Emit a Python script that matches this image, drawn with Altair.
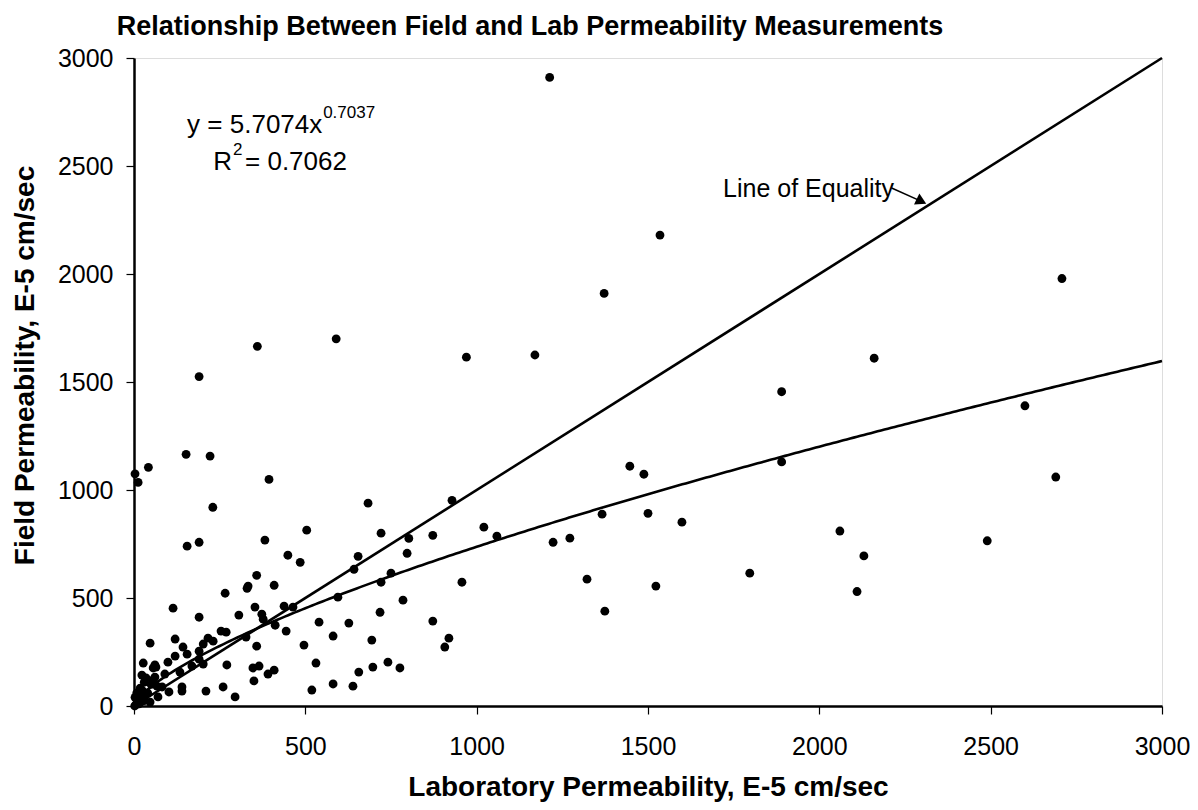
import altair as alt
import pandas as pd

# ---- data ----
lab = [3, 12, 42, 152, 222, 394, 230, 155, 190, 382, 504, 449, 485, 358, 333, 330, 409, 266, 114, 190,
       306, 353, 373, 377, 438, 464, 412, 444, 540, 595, 627, 581, 496, 531, 519, 581, 639, 254, 269, 327,
       358, 216, 231, 202, 120, 47, 143, 155, 190, 190, 202, 271, 120, 99, 61, 64, 90, 134, 169, 347,
       365, 391, 409, 350, 260, 210, 140, 140, 295, 102, 61, 67, 82, 70, 47,
       5, 10, 15, 20, 8, 25, 30, 35, 20, 3, 40, 50, 55, 15, 30, 2,
       27, 56, 23, 18,
       683, 928, 721, 802, 872, 797, 654, 642, 750, 721, 1021, 1059, 957, 785, 718, 872, 694, 919, 907, 656,
       697, 741, 776,
       1447, 1488, 1366, 1500, 1599, 1223, 1272, 1322, 1523, 1374, 1797,
       2708,
       1213, 1535, 1372, 590, 360, 190, 970, 1170, 2160, 1890, 2600, 1890, 2690, 2060, 2130, 2110, 2490]
field = [1075, 1035, 1105, 1165, 1157, 1049, 920, 740, 758, 768, 814, 698, 665, 605, 555, 545, 559, 522, 453, 411,
         421, 458, 425, 402, 462, 458, 374, 347, 388, 504, 384, 324, 282, 199, 74, 102, 92, 347, 342, 319,
         277, 314, 300, 287, 310, 291, 273, 240, 254, 217, 194, 190, 231, 203, 190, 180, 148, 157, 185, 176,
         185, 148, 166, 116, 88, 69, 88, 69, 42, 65, 134, 92, 88, 42, 18,
         5, 15, 30, 50, 60, 70, 110, 130, 20, 40, 60, 100, 120, 10, 25, 0,
         199, 176, 143, 83,
         939, 952, 800, 776, 790, 707, 693, 633, 615, 573, 828, 786, 573, 490, 434, 393, 305, 314, 273, 157,
         180, 203, 176,
         1110, 1073, 888, 892, 851, 758, 777, 587, 555, 439, 615,
         1979,
         2910, 2180, 1910, 1700, 1665, 1525, 1615, 1625, 1610, 1455, 1390, 1130, 1060, 810, 695, 530, 765]

tick_values = [0, 500, 1000, 1500, 2000, 2500, 3000]
equality_x = [0, 3000]
equality_y = [0, 3000]

# trendline shown on the chart: y = 5.7074 x^0.7037
COEF = 5.7074
EXPO = 0.7037

TITLE = "Relationship Between Field and Lab Permeability Measurements"

ann_text = ["y = 5.7074x", "0.7037", "R", "2", "= 0.7062", "Line of Equality"]
ann_x = [155, 552, 231, 289, 324, 1719]
ann_y = [2653, 2722, 2481, 2551, 2481, 2356]
ann_fs = [26, 17, 26, 17, 26, 25]

arrow_from = (2211, 2398)
arrow_to = (2298, 2336)

FONT = "Liberation Sans"

xscale = alt.Scale(domain=[0, 3000], nice=False, zero=False)
yscale = alt.Scale(domain=[0, 3000], nice=False, zero=False)

common_axis = dict(grid=False, values=tick_values, format="d", domainColor="black", domainWidth=2.5,
                   tickColor="black", tickSize=8, tickWidth=1.2, labelColor="black",
                   labelFont=FONT, labelFontSize=25, titleFont=FONT, titleFontSize=28,
                   titleFontWeight="bold", titleColor="black", labelOverlap=False, labelFlush=False)

xaxis = alt.Axis(title="Laboratory Permeability, E-5 cm/sec", labelPadding=20, titlePadding=14, **common_axis)
yaxis = alt.Axis(title="Field Permeability, E-5 cm/sec", labelPadding=13, titlePadding=18, titleY=307,
                 **common_axis)

X = alt.X("x:Q", scale=xscale, axis=xaxis)
Y = alt.Y("y:Q", scale=yscale, axis=yaxis)

pts = pd.DataFrame({"x": lab, "y": field})
eq = pd.DataFrame({"x": equality_x, "y": equality_y})
ann = pd.DataFrame({"x": ann_x, "y": ann_y, "label": ann_text, "fs": ann_fs})
arr = pd.DataFrame({"x": [arrow_from[0]], "y": [arrow_from[1]], "x2": [arrow_to[0]], "y2": [arrow_to[1]]})
head = pd.DataFrame({"x": [arrow_to[0]], "y": [arrow_to[1]]})
ttl = pd.DataFrame({"label": [TITLE]})

eq_line = alt.Chart(eq).mark_line(color="black", strokeWidth=2.6).encode(x=X, y=Y)

curve = (alt.Chart(alt.sequence(0, 3001, 10, as_="x"))
         .transform_calculate(y=f"{COEF} * pow(datum.x, {EXPO})")
         .mark_line(color="black", strokeWidth=2.6)
         .encode(x=X, y=Y))

points = alt.Chart(pts).mark_circle(size=78, color="black", opacity=1).encode(x=X, y=Y)

texts = (alt.Chart(ann)
         .mark_text(align="left", baseline="alphabetic", font=FONT, color="black")
         .encode(x=X, y=Y, text="label:N", size=alt.Size("fs:Q", scale=None, legend=None)))

arrow_line = alt.Chart(arr).mark_rule(color="black", strokeWidth=1.5).encode(x=X, y=Y, x2="x2:Q", y2="y2:Q")
arrow_head = (alt.Chart(head)
              .mark_point(shape="triangle-right", filled=True, angle=26, size=150, color="black", opacity=1)
              .encode(x=X, y=Y))

# chart title, placed above the plot area (pixel offsets relative to the plot's top-left corner)
title_mark = (alt.Chart(ttl)
              .mark_text(align="center", baseline="alphabetic", font=FONT, fontSize=27,
                         fontWeight="bold", color="black")
              .encode(x=alt.value(396), y=alt.value(-23), text="label:N"))

chart = (alt.layer(eq_line, curve, points, texts, arrow_line, arrow_head, title_mark)
         .properties(width=1028, height=648,
                     autosize=alt.AutoSizeParams(type="none"),
                     padding={"left": 126, "top": 50, "right": 28, "bottom": 96})
         .configure_view(stroke="black", strokeWidth=2.5)
         .configure(background="white"))

chart.save("out.html", embed_options={"renderer": "svg", "actions": False})
